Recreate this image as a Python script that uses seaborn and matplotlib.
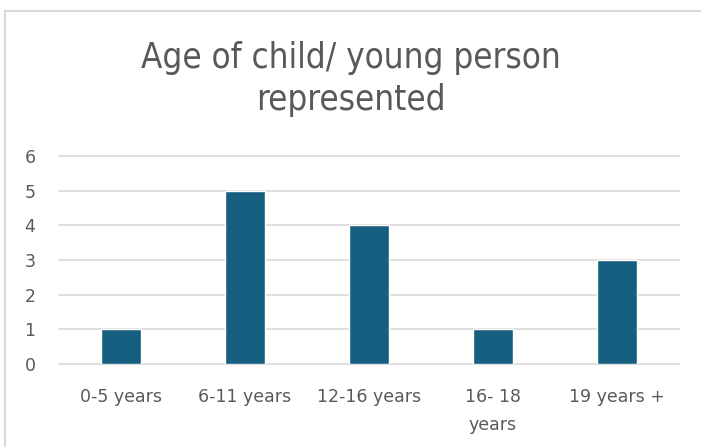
import matplotlib
matplotlib.use("Agg")
import matplotlib.pyplot as plt
import matplotlib.patches as mpatches
import seaborn as sns
import pandas as pd

categories = ["0-5 years", "6-11 years", "12-16 years", "16- 18\nyears", "19 years +"]
counts = [1, 5, 4, 1, 3]
yticks = [0, 1, 2, 3, 4, 5, 6]

sns.set_theme(style="white")
plt.rcParams["font.family"] = ["DejaVu Sans"]

W, H = 701, 447
fig = plt.figure(figsize=(W / 100, H / 100), dpi=100)
ax = fig.add_axes([59 / W, 1 - 364 / H, (679 - 59) / W, (364 - 156) / H])

df = pd.DataFrame({"age": categories, "count": counts})
sns.barplot(data=df, x="age", y="count", color="#175f81", saturation=1,
            width=0.315, ax=ax, zorder=3)

ax.set_ylim(0, 6)
ax.set_xlim(-0.5, len(categories) - 0.5)
ax.set_yticks(yticks)
ax.yaxis.grid(True, color="#d9d9d9", linewidth=1.2, zorder=0)
ax.set_axisbelow(True)
for gl in ax.get_ygridlines():
    gl.set_clip_on(False)
for s in ax.spines.values():
    s.set_visible(False)
ax.set_xlabel("")
ax.set_ylabel("")
ax.tick_params(axis="y", length=0, pad=17, labelsize=12.5, labelcolor="#595959")
ax.tick_params(axis="x", length=0, pad=17, labelsize=12.5, labelcolor="#595959")
for lbl in ax.get_xticklabels():
    lbl.set_linespacing(1.75)

fig.text(0.5, 1 - 79 / H, "Age of child/ young person\nrepresented", ha="center", va="center",
         fontsize=25, color="#595959", family=["DejaVu Sans"], stretch="condensed",
         linespacing=1.3)

# chart area frame
fig.patches.append(mpatches.Rectangle((5 / W, -0.1), 1.2, 1 - 11 / H + 0.1,
                                      transform=fig.transFigure, fill=False,
                                      edgecolor="#d9d9d9", linewidth=1.5))

fig.savefig("out.png", dpi=100)
